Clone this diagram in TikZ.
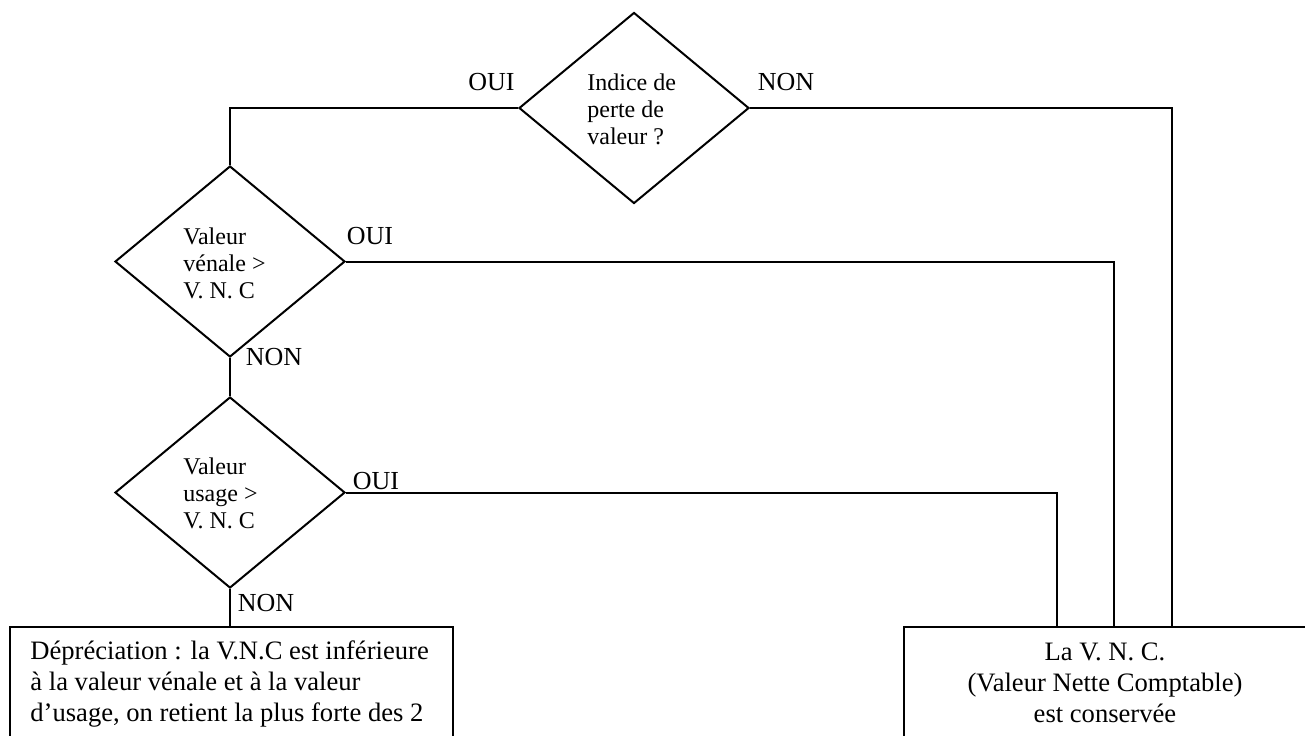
\documentclass[tikz,border=0pt]{standalone}
\usepackage{fontspec}
\setmainfont{Liberation Serif}
\usetikzlibrary{shapes.geometric}
\tikzset{
  decision/.style={diamond, draw, line width=1pt, minimum width=115pt, minimum height=95.5pt, inner sep=0pt, aspect=1.2},
  dtext/.style={font=\fontsize{12}{13.5}\selectfont, align=left, inner sep=0pt, anchor=west},
  lbl/.style={font=\fontsize{13}{15}\selectfont, inner sep=0pt},
  outbox/.style={rectangle, draw, line width=1.2pt, anchor=north west, minimum height=75pt, inner sep=0pt},
  btext/.style={font=\fontsize{13.3}{15.5}\selectfont, inner sep=0pt},
  conn/.style={line width=1pt}
}
\begin{document}
\begin{tikzpicture}[x=0.5pt, y=-0.5pt]
\useasboundingbox (0,0) rectangle (1305,735);
\clip (0,0) rectangle (1305,735);
% decisions
\node[decision] (d1) at (634,108) {};
\node[decision] (d2) at (230,261.5) {};
\node[decision] (d3) at (230,492.5) {};
\node[dtext] (t1) at (587,109) {Indice de\\perte de\\valeur ?};
\node[dtext] (t2) at (183,263) {Valeur\\vénale >\\V. N. C};
\node[dtext] (t3) at (183,493) {Valeur\\usage >\\V. N. C};
% boxes
\node[outbox, minimum width=221.5pt] (dep) at (9,626) {};
\node[outbox, minimum width=215pt] (vnc) at (903,626) {};
\node[btext, align=left, anchor=west] (deptxt) at (30,684) {Dépréciation : la V.N.C est inférieure\\à la valeur vénale et à la valeur\\d’usage, on retient la plus forte des 2};
\node[btext, align=center] (vnctxt) at (1105,683) {La V. N. C.\\(Valeur Nette Comptable)\\est conservée};
% entry points on the right box
\coordinate (e1) at (1057,626);
\coordinate (e2) at (1114,626);
\coordinate (e3) at (1172,626);
% connectors
\draw[conn] (d1.west) -| (d2.north);
\draw[conn] (d1.east) -| (e3);
\draw[conn] (d2.east) -| (e2);
\draw[conn] (d2.south) -- (d3.north);
\draw[conn] (d3.east) -| (e1);
\draw[conn] (d3.south) -- (d3.south |- dep.north);
% labels
\node[lbl] (l1) at (491.5,82) {OUI};
\node[lbl] (l2) at (786,82) {NON};
\node[lbl] (l3) at (370,236) {OUI};
\node[lbl] (l4) at (274,357) {NON};
\node[lbl] (l5) at (376,481) {OUI};
\node[lbl] (l6) at (266,603) {NON};
\end{tikzpicture}
\end{document}
